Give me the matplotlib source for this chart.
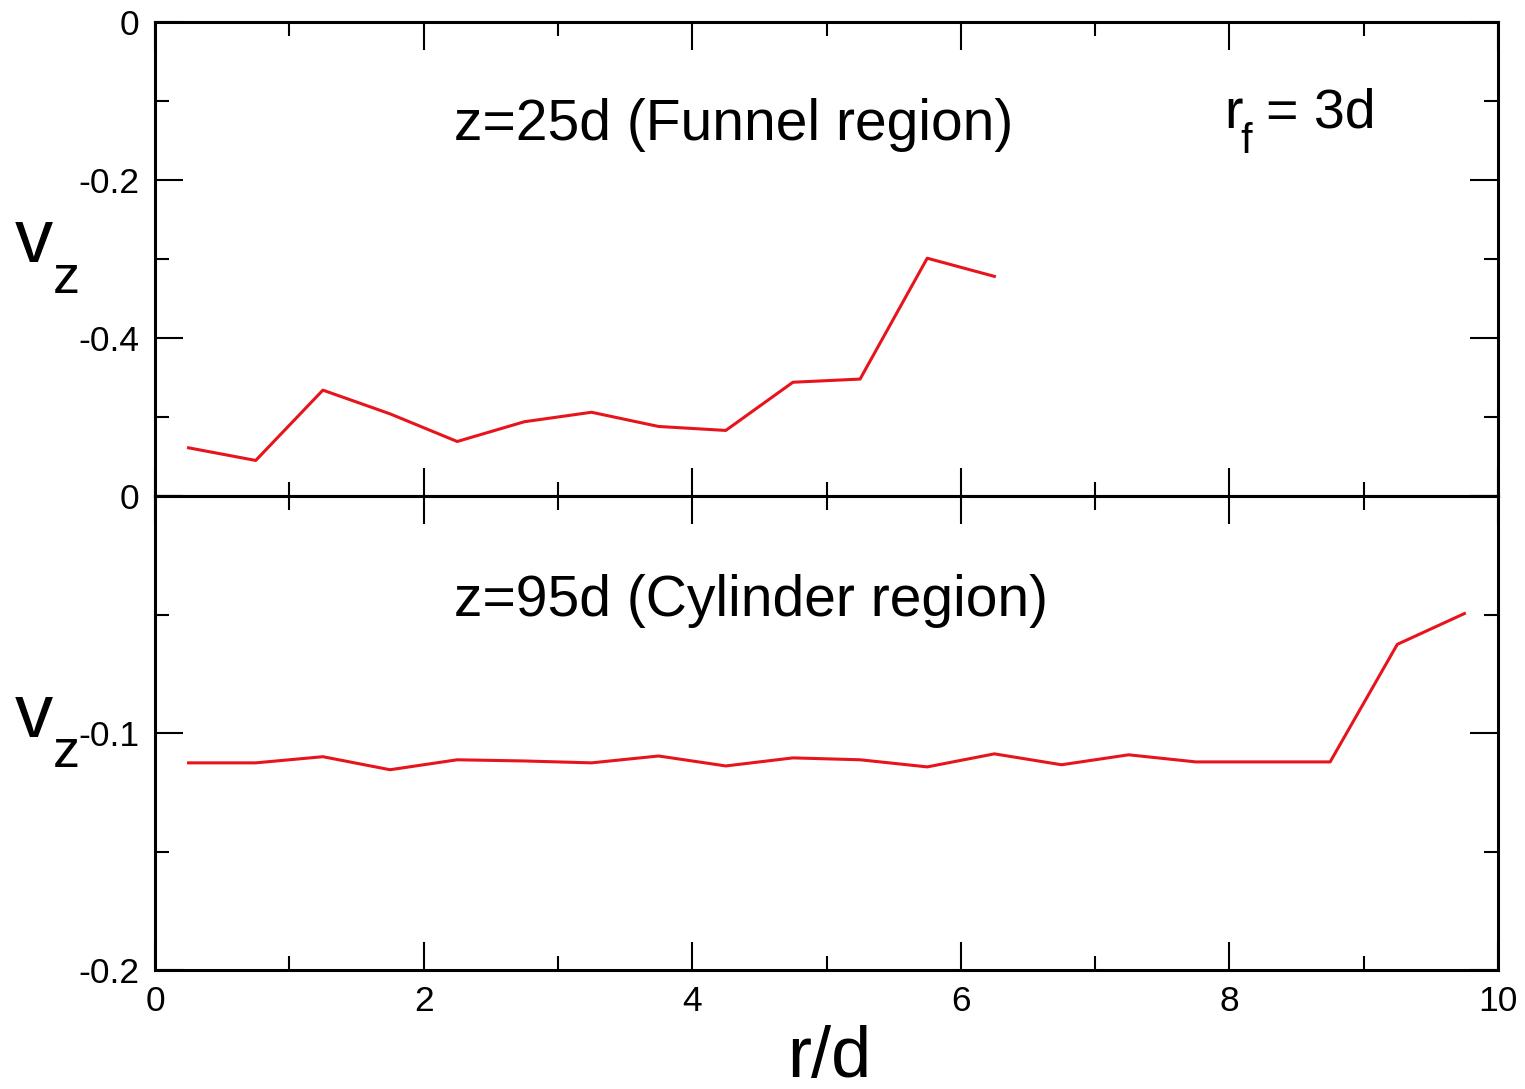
import matplotlib
matplotlib.use('Agg')
import matplotlib.pyplot as plt
from matplotlib.ticker import FixedLocator

plt.rcParams['font.family'] = ['Liberation Sans', 'DejaVu Sans']
plt.rcParams['axes.unicode_minus'] = False

# radial positions r/d
r_funnel = [0.25, 0.75, 1.25, 1.75, 2.25, 2.75, 3.25, 3.75, 4.25, 4.75, 5.25, 5.75, 6.25]
vz_funnel = [-0.539, -0.555, -0.466, -0.496, -0.531, -0.506, -0.494, -0.512, -0.517,
             -0.456, -0.452, -0.299, -0.322]

r_cyl = [0.25, 0.75, 1.25, 1.75, 2.25, 2.75, 3.25, 3.75, 4.25, 4.75, 5.25, 5.75, 6.25,
         6.75, 7.25, 7.75, 8.25, 8.75, 9.25, 9.75]
vz_cyl = [-0.1126, -0.1126, -0.1100, -0.1155, -0.1113, -0.1118, -0.1126, -0.1097, -0.1139,
          -0.1105, -0.1113, -0.1143, -0.1088, -0.1134, -0.1092, -0.1122, -0.1122, -0.1122,
          -0.0626, -0.0496]

xticks = [0, 2, 4, 6, 8, 10]
xtick_labels = ['0', '2', '4', '6', '8', '10']
top_yticks = [0, -0.2, -0.4, -0.6]
top_ylabels = ['0', '-0.2', '-0.4', '']
bot_yticks = [0, -0.1, -0.2]
bot_ylabels = ['0', '-0.1', '-0.2']

W, H = 1525, 1089
fig = plt.figure(figsize=(W / 100, H / 100), dpi=100)
gs = fig.add_gridspec(2, 1, left=155 / W, right=1498 / W, top=1 - 22 / H,
                      bottom=1 - 970 / H, hspace=0)
ax1 = fig.add_subplot(gs[0])
ax2 = fig.add_subplot(gs[1], sharex=ax1)

for ax in (ax1, ax2):
    ax.tick_params(which='both', direction='in', top=True, right=True, width=1.5,
                   labelsize=25.5, pad=11)
    ax.tick_params(which='major', length=20)
    ax.tick_params(which='minor', length=10)
    for s in ax.spines.values():
        s.set_linewidth(2.2)
    ax.set_xlim(0, 10)
    ax.xaxis.set_major_locator(FixedLocator(xticks))
    ax.xaxis.set_minor_locator(FixedLocator([1, 3, 5, 7, 9]))

ax1.plot(r_funnel, vz_funnel, color='#e8141c', lw=2.2)
ax1.set_ylim(-0.6, 0)
ax1.set_yticks(top_yticks)
ax1.set_yticklabels(top_ylabels)
ax1.yaxis.set_minor_locator(FixedLocator([-0.1, -0.3, -0.5]))
ax1.tick_params(labelbottom=False)

ax2.plot(r_cyl, vz_cyl, color='#e8141c', lw=2.2)
ax2.set_ylim(-0.2, 0)
ax2.set_yticks(bot_yticks)
ax2.set_yticklabels(bot_ylabels)
ax2.yaxis.set_minor_locator(FixedLocator([-0.05, -0.15]))
ax2.set_xticklabels(xtick_labels)

ax1.text(2.23, -0.131, 'z=25d (Funnel region)', fontsize=41, ha='left', va='center')
ax2.text(2.23, -0.0445, 'z=95d (Cylinder region)', fontsize=41, ha='left', va='center')

# r_f = 3d, pieces placed in pixels
fig.text(1224 / W, 1 - 128 / H, 'r', fontsize=40, ha='left', va='baseline')
fig.text(1240 / W, 1 - 153 / H, 'f', fontsize=30, ha='left', va='baseline')
fig.text(1266 / W, 1 - 128 / H, '= 3d', fontsize=40, ha='left', va='baseline')

# axis labels (v with subscript z, drawn as two pieces)
for vb, zb in ((262, 293), (737, 767)):
    fig.text(15 / W, 1 - vb / H, 'v', fontsize=55, ha='left', va='baseline')
    fig.text(53 / W, 1 - zb / H, 'z', fontsize=39, ha='left', va='baseline')
fig.text(829 / W, 1 - 1077 / H, 'r/d', fontsize=52, ha='center', va='baseline')

fig.savefig('out.png', dpi=100)
